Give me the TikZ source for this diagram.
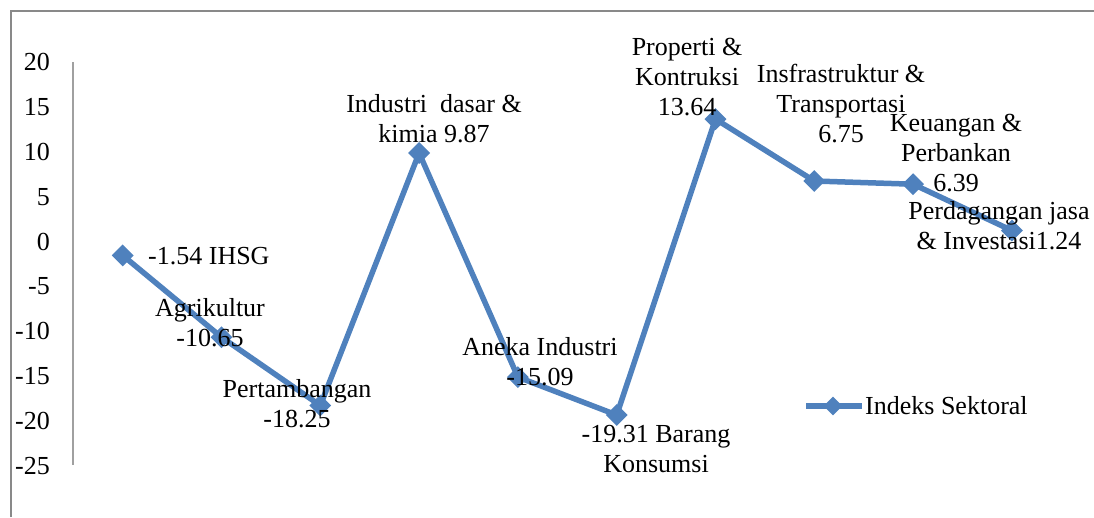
\documentclass[tikz,border=0pt]{standalone}
\usepackage{fontspec}
\setmainfont{Liberation Serif}
\usetikzlibrary{shapes.geometric}
\definecolor{series}{HTML}{4F81BD}
\definecolor{framegray}{HTML}{898989}
\definecolor{axisgray}{HTML}{A0A0A0}
\tikzset{
  lbl/.style={font=\fontsize{26}{30}\selectfont, align=center, inner sep=0pt, text=black},
  tick/.style={font=\fontsize{26}{30}\selectfont, anchor=east, inner sep=0pt},
  marker/.style={diamond, fill=series, draw=none, minimum size=22pt, inner sep=0pt},
  seriesline/.style={draw=series, line width=5.5pt, line join=round},
}
\begin{document}
\begin{tikzpicture}[x=1pt,y=-1pt]
\useasboundingbox (0,0) rectangle (1094,517);
% frame (cropped)
\draw[framegray, line width=1.3pt] (11,517) -- (11,11) -- (1094,11);
% axis
\draw[axisgray, line width=1.2pt] (73,62) -- (73,465);
% tick labels
\foreach \v [count=\i from 0] in {20,15,10,5,0,-5,-10,-15,-20,-25} {
  \node[tick] (t\i) at (50,{62+\i*44.9}) {\v};
}
% data points
\coordinate (p0) at (122.7,255.4);
\coordinate (p1) at (221.5,337.2);
\coordinate (p2) at (320.3,405.5);
\coordinate (p3) at (419.1,153.0);
\coordinate (p4) at (517.9,377.1);
\coordinate (p5) at (616.7,415.0);
\coordinate (p6) at (715.5,119.1);
\coordinate (p7) at (814.3,181.0);
\coordinate (p8) at (913.1,184.2);
\coordinate (p9) at (1011.9,230.5);
\draw[seriesline] (p0) -- (p1) -- (p2) -- (p3) -- (p4) -- (p5) -- (p6) -- (p7) -- (p8) -- (p9);
\foreach \i in {0,...,9} { \node[marker] (m\i) at (p\i) {}; }
% data labels
\node[lbl, anchor=west] (l0) at (148,256) {-1.54 IHSG};
\node[lbl] (l1) at (210,323) {Agrikultur\\-10.65};
\node[lbl] (l2) at (297,404) {Pertambangan\\-18.25};
\node[lbl] (l3) at (434,119) {Industri\ \ dasar \&\\kimia 9.87};
\node[lbl] (l4) at (540,362) {Aneka Industri\\-15.09};
\node[lbl] (l5) at (656,449) {-19.31 Barang\\Konsumsi};
\node[lbl] (l6) at (687,77) {Properti \&\\Kontruksi\\13.64};
\node[lbl] (l7) at (841,104) {Insfrastruktur \&\\Transportasi\\6.75};
\node[lbl] (l8) at (956,153) {Keuangan \&\\Perbankan\\6.39};
\node[lbl] (l9) at (999,226) {Perdagangan jasa\\\& Investasi1.24};
% legend
\coordinate (lg1) at (806,406);
\coordinate (lg2) at (862,406);
\draw[seriesline] (lg1) -- (lg2);
\node[marker, minimum size=19pt] (lgm) at (833,406) {};
\node[lbl, anchor=west] (lgt) at (865,406) {Indeks Sektoral};
\end{tikzpicture}
\end{document}
